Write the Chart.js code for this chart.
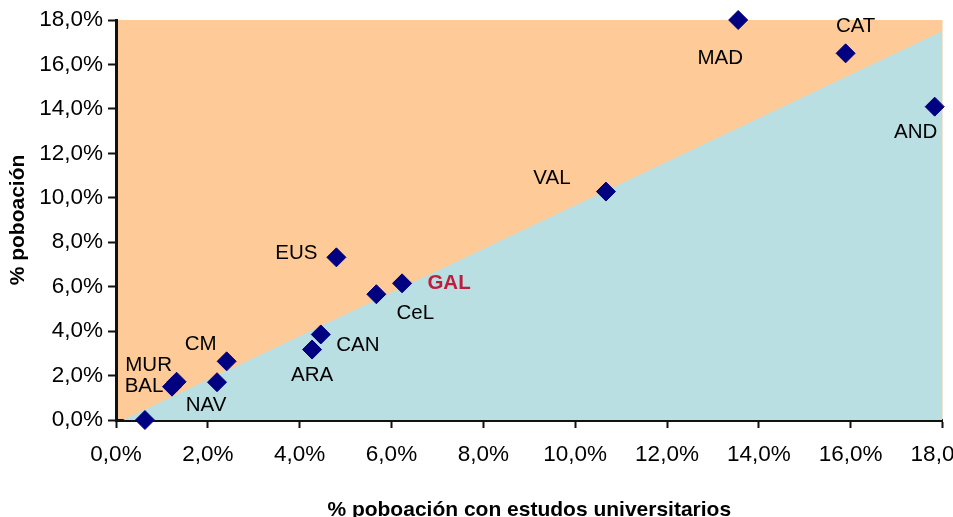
<!DOCTYPE html>
<html>
<head>
<meta charset="utf-8">
<script src="https://cdn.jsdelivr.net/npm/chart.js@4.4.1/dist/chart.umd.min.js"></script>
<style>
    html, body { margin: 0; padding: 0; background: #fff; }
    #wrap { width: 953px; height: 517px; }
</style>
</head>
<body>
<div id="wrap"><canvas id="chart"></canvas></div>
<script>
// regions: % population with university studies vs % population
const regions = ["", "MUR", "BAL", "NAV", "CM", "ARA", "CAN", "EUS", "CeL", "GAL", "VAL", "MAD", "CAT", "AND"];
const uniShare = [0.63, 1.32, 1.22, 2.2, 2.41, 4.27, 4.46, 4.8, 5.67, 6.23, 10.67, 13.55, 15.89, 17.83];
const popShare = [0.0, 1.72, 1.5, 1.7, 2.64, 3.17, 3.85, 7.32, 5.66, 6.15, 10.28, 18.0, 16.5, 14.1];

// dividing line between the two coloured zones
const splitX = [0.15, 18];
const splitY = [0, 17.5];

// label offsets in pixels from the marker (style only)
const labelOffsets = [
    [0, 0], [-28, -16], [-28, 0], [-11, 23], [-26, -17], [0, 26], [37, 11],
    [-40, -4], [39, 19], [47, 0], [-54, -13], [-18, 38], [10, -27], [-19, 26],
];

const FONT = '"Liberation Sans", Arial, sans-serif';
const fmt = (v) => v.toFixed(1).replace(".", ",") + "%";

const plotBg = {
    id: "plotBg",
    beforeDraw(chart) {
        const { ctx, chartArea: a } = chart;
        ctx.save();
        ctx.fillStyle = "#FECB98";
        ctx.fillRect(a.left, a.top, a.right - a.left, a.bottom - a.top);
        ctx.restore();
    },
};

// labels go under the markers but over the coloured zones
const pointLabels = {
    id: "pointLabels",
    beforeDatasetDraw(chart, args) {
        if (args.index !== 1) return;
        const { ctx } = chart;
        const meta = chart.getDatasetMeta(1);
        ctx.save();
        ctx.textAlign = "center";
        ctx.textBaseline = "middle";
        meta.data.forEach((el, i) => {
            if (!regions[i]) return;
            const isGal = regions[i] === "GAL";
            ctx.font = (isGal ? "bold " : "") + "20.5px " + FONT;
            ctx.fillStyle = isGal ? "#BE1E3C" : "#000";
            ctx.fillText(regions[i], el.x + labelOffsets[i][0], el.y + labelOffsets[i][1]);
        });
        ctx.restore();
    },
};

const axisCommon = {
    type: "linear",
    min: 0,
    max: 18,
    border: { color: "#111", width: 3 },
    grid: { display: true, drawOnChartArea: false, tickLength: 8, tickColor: "#111", tickWidth: 2 },
};

new Chart(document.getElementById("chart"), {
    type: "scatter",
    data: {
        datasets: [
            {
                type: "line",
                order: 2,
                data: splitX.map((x, i) => ({ x, y: splitY[i] })),
                borderWidth: 0,
                borderColor: "rgba(0,0,0,0)",
                backgroundColor: "#B9DFE2",
                fill: "start",
                pointRadius: 0,
            },
            {
                order: 1,
                data: uniShare.map((x, i) => ({ x, y: popShare[i] })),
                pointStyle: "rectRot",
                pointRadius: 9.5,
                pointHoverRadius: 9.5,
                backgroundColor: "#000080",
                borderColor: "#000080",
                clip: false,
            },
        ],
    },
    options: {
        responsive: true,
        maintainAspectRatio: false,
        animation: false,
        events: [],
        layout: { padding: { top: 20, right: 8, left: 0, bottom: 0 } },
        plugins: { legend: { display: false }, tooltip: { enabled: false } },
        scales: {
            x: {
                ...axisCommon,
                ticks: { stepSize: 2, padding: 13, color: "#000", font: { family: FONT, size: 22.5 }, callback: fmt, maxRotation: 0 },
                title: {
                    display: true,
                    text: "% poboación con estudos universitarios",
                    color: "#000",
                    font: { family: FONT, size: 21, weight: "bold" },
                    padding: { top: 0, bottom: -5.5 },
                },
                afterFit(s) {
                    s.height = 97;
                    s.paddingLeft = 0;
                    s.paddingRight = 0;
                },
            },
            y: {
                ...axisCommon,
                ticks: { stepSize: 2, padding: 5, color: "#000", font: { family: FONT, size: 22.5 }, callback: fmt },
                title: {
                    display: true,
                    text: "% poboación",
                    color: "#000",
                    font: { family: FONT, size: 21, weight: "bold" },
                    padding: { top: 5.5, bottom: 0 },
                },
                afterFit(s) {
                    s.width = 116;
                    s.paddingTop = 0;
                    s.paddingBottom = 0;
                },
            },
        },
    },
    plugins: [plotBg, pointLabels],
});
</script>
</body>
</html>
